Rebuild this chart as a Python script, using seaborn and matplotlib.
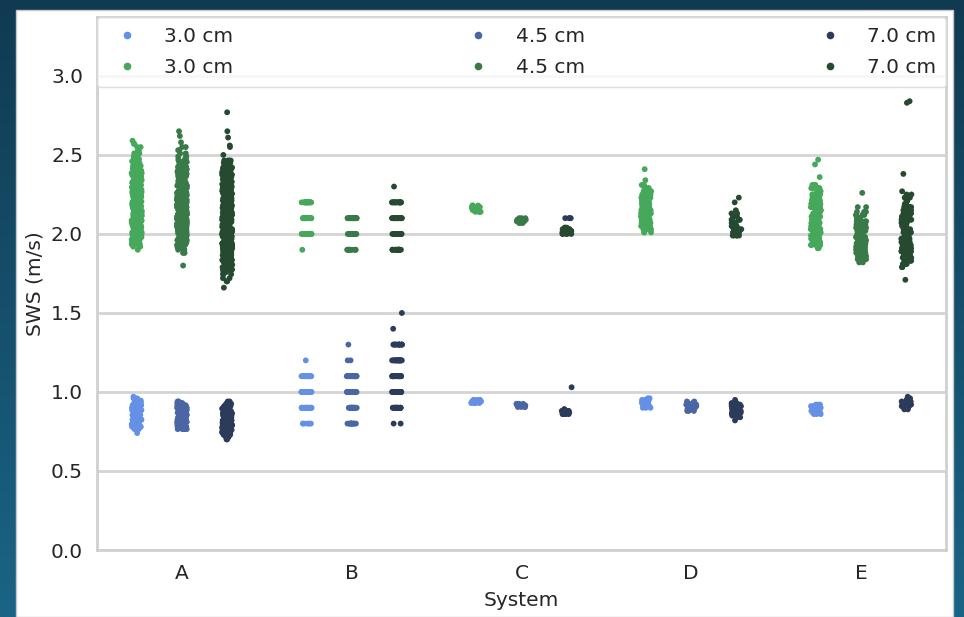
import numpy as np
import pandas as pd
import matplotlib
matplotlib.use("Agg")
import matplotlib.pyplot as plt
from matplotlib.lines import Line2D
from matplotlib.patches import Rectangle
import seaborn as sns

np.random.seed(3)

systems = ["A", "B", "C", "D", "E"]
depths = ["3.0 cm", "4.5 cm", "7.0 cm"]
blue_colors = ["#6490e6", "#4a66a4", "#2d3b5b"]
green_colors = ["#46a85a", "#3a7a48", "#264a30"]

# ---- high-SWS (green) groups: value levels and point counts ----
A_hi_30_y = [1.90, 1.92, 1.935,
             1.95, 1.965, 1.98, 1.995, 2.01, 2.025, 2.04, 2.055, 2.07, 2.085, 2.10, 2.115, 2.13, 2.145,
             2.16, 2.175, 2.19, 2.205, 2.22, 2.235, 2.25, 2.265, 2.28, 2.295, 2.31, 2.325, 2.34, 2.355,
             2.37, 2.385, 2.40, 2.415, 2.43, 2.445, 2.46,
             2.475, 2.49, 2.51, 2.53, 2.55, 2.57, 2.59]
A_hi_30_n = [1, 2, 3,
             5, 6, 7, 8, 9, 9, 10, 10, 10, 10, 10, 10, 10, 10, 10, 10, 10, 10, 10, 10, 9, 9, 9, 9, 8, 8,
             8, 7, 7, 7, 6, 6, 5, 5, 4,
             4, 3, 3, 2, 2, 2, 1]
A_hi_45_y = [1.80, 1.88, 1.90, 1.915,
             1.93, 1.945, 1.96, 1.975, 1.99, 2.005, 2.02, 2.035, 2.05, 2.065, 2.08, 2.095, 2.11, 2.125,
             2.14, 2.155, 2.17, 2.185, 2.20, 2.215, 2.23, 2.245, 2.26, 2.275, 2.29, 2.305, 2.32, 2.335,
             2.35, 2.365, 2.38, 2.395, 2.41, 2.425, 2.44, 2.455, 2.47,
             2.49, 2.51, 2.53, 2.55, 2.58, 2.62, 2.65]
A_hi_45_n = [1, 2, 3, 4,
             5, 6, 7, 8, 9, 10, 10, 10, 10, 10, 10, 10, 10, 10, 10, 10, 10, 10, 10, 9, 9, 9, 9, 9,
             8, 8, 8, 7, 7, 6, 6, 5, 5, 4, 4, 4, 3,
             3, 2, 2, 2, 1, 1, 1]
A_hi_70_y = [1.66, 1.70, 1.72,
             1.745, 1.76, 1.775, 1.79, 1.805, 1.82, 1.835, 1.85, 1.865, 1.88, 1.895, 1.91, 1.925, 1.94,
             1.955, 1.97, 1.985, 2.00, 2.015, 2.03, 2.045, 2.06, 2.075, 2.09, 2.105, 2.12, 2.135, 2.15,
             2.165, 2.18, 2.195, 2.21, 2.225, 2.24, 2.255, 2.27, 2.285, 2.30, 2.315, 2.33, 2.345, 2.36,
             2.375, 2.39, 2.405, 2.42, 2.435, 2.45, 2.465,
             2.50, 2.55, 2.56, 2.61, 2.65, 2.77]
A_hi_70_n = [1, 2, 2,
             3, 4, 5, 6, 7, 8, 9, 9, 10, 10, 10, 10, 10, 10, 10, 10, 10, 10, 10, 10, 10, 10, 10, 10,
             10, 10, 10, 9, 9, 9, 9, 9, 9, 8, 8, 8, 8, 8, 7, 7, 7, 7, 6, 6, 6, 5, 5, 4, 4,
             1, 1, 1, 1, 1, 1]

B_hi_30_y = [1.9, 2.0, 2.1, 2.2]
B_hi_30_n = [1, 20, 20, 16]
B_hi_45_y = [1.9, 2.0, 2.1]
B_hi_45_n = [10, 20, 20]
B_hi_70_y = [1.9, 2.0, 2.1, 2.2, 2.3]
B_hi_70_n = [16, 20, 20, 16, 1]

C_hi_30_y = [2.14, 2.15, 2.16, 2.17, 2.18]
C_hi_30_n = [4, 6, 8, 6, 3]
C_hi_45_y = [2.07, 2.08, 2.09, 2.10]
C_hi_45_n = [4, 6, 6, 3]
C_hi_70_y = [2.00, 2.01, 2.02, 2.03, 2.04]
C_hi_70_n = [5, 7, 7, 5, 3]

D_hi_30_y = [2.01, 2.03, 2.05, 2.07, 2.09, 2.11, 2.13, 2.15, 2.17, 2.19, 2.21, 2.23, 2.25, 2.27, 2.29, 2.31, 2.34, 2.41]
D_hi_30_n = [3, 5, 7, 8, 8, 8, 8, 8, 8, 8, 8, 8, 7, 6, 4, 2, 1, 1]
D_hi_45_y = []
D_hi_45_n = []
D_hi_70_y = [1.99, 2.01, 2.03, 2.05, 2.07, 2.09, 2.11, 2.13, 2.15, 2.20, 2.23]
D_hi_70_n = [5, 7, 7, 7, 6, 5, 4, 2, 1, 1, 1]

E_hi_30_y = [1.91, 1.93, 1.95, 1.97, 1.99, 2.01, 2.03, 2.05, 2.07, 2.09, 2.11, 2.13, 2.15, 2.17,
             2.19, 2.21, 2.23, 2.25, 2.27, 2.29, 2.31, 2.36, 2.44, 2.47]
E_hi_30_n = [2, 5, 6, 7, 8, 8, 8, 8, 8, 8, 8, 8, 8, 8, 8, 8, 7, 7, 6, 5, 3, 1, 1, 1]
E_hi_45_y = [1.82, 1.84, 1.86, 1.88, 1.90, 1.92, 1.94, 1.96, 1.98, 2.00, 2.02, 2.04, 2.06, 2.08,
             2.10, 2.12, 2.14, 2.17, 2.26]
E_hi_45_n = [2, 5, 6, 7, 8, 8, 8, 8, 8, 8, 8, 7, 7, 6, 5, 4, 3, 2, 1]
E_hi_70_y = [1.71, 1.79, 1.81, 1.83, 1.85, 1.87, 1.89, 1.91, 1.93, 1.95, 1.97, 1.99, 2.01, 2.03, 2.05,
             2.07, 2.09, 2.11, 2.13, 2.15, 2.17, 2.19, 2.21, 2.23, 2.25, 2.27, 2.38, 2.83, 2.84]
E_hi_70_n = [1, 2, 4, 5, 6, 7, 7, 7, 7, 7, 7, 7, 7, 7, 7, 6, 6, 6, 5, 5, 4, 3, 3, 2, 2, 1, 1, 1, 1]

# ---- low-SWS (blue) groups ----
A_lo_30_y = [0.74, 0.765, 0.78, 0.795, 0.81, 0.825, 0.84, 0.855, 0.87, 0.885, 0.90, 0.915, 0.93, 0.945, 0.96, 0.97]
A_lo_30_n = [1, 3, 6, 8, 9, 9, 9, 9, 9, 8, 8, 7, 6, 5, 3, 1]
A_lo_45_y = [0.765, 0.78, 0.795, 0.81, 0.825, 0.84, 0.855, 0.87, 0.885, 0.90, 0.915, 0.93, 0.94]
A_lo_45_n = [6, 9, 10, 10, 10, 10, 10, 10, 9, 8, 6, 4, 2]
A_lo_70_y = [0.70, 0.715, 0.73, 0.745, 0.76, 0.775, 0.79, 0.805, 0.82, 0.835, 0.85, 0.865, 0.88, 0.895, 0.91, 0.925, 0.94]
A_lo_70_n = [2, 4, 7, 9, 10, 10, 10, 10, 10, 9, 9, 8, 7, 6, 5, 3, 2]

B_lo_30_y = [0.8, 0.9, 1.0, 1.1, 1.2]
B_lo_30_n = [5, 20, 20, 16, 1]
B_lo_45_y = [0.8, 0.9, 1.0, 1.1, 1.2, 1.3]
B_lo_45_n = [10, 20, 20, 20, 2, 1]
B_lo_70_y = [0.8, 0.9, 1.0, 1.1, 1.2, 1.3, 1.4, 1.5]
B_lo_70_n = [2, 20, 20, 20, 16, 12, 1, 1]

C_lo_30_y = [0.93, 0.94, 0.95]
C_lo_30_n = [5, 8, 4]
C_lo_45_y = [0.905, 0.915, 0.925]
C_lo_45_n = [4, 6, 4]
C_lo_70_y = [0.86, 0.87, 0.88, 0.89, 1.03, 2.10]
C_lo_70_n = [5, 6, 6, 3, 1, 4]

D_lo_30_y = [0.90, 0.91, 0.92, 0.93, 0.94, 0.95, 0.96]
D_lo_30_n = [3, 5, 6, 6, 5, 4, 2]
D_lo_45_y = [0.88, 0.89, 0.90, 0.91, 0.92, 0.93, 0.94]
D_lo_45_n = [3, 5, 6, 6, 6, 4, 2]
D_lo_70_y = [0.82, 0.84, 0.85, 0.86, 0.87, 0.88, 0.89, 0.90, 0.91, 0.92, 0.93, 0.95]
D_lo_70_n = [1, 2, 3, 4, 5, 5, 5, 5, 4, 3, 2, 1]

E_lo_30_y = [0.86, 0.87, 0.88, 0.89, 0.90, 0.91, 0.92]
E_lo_30_n = [3, 5, 6, 6, 6, 5, 3]
E_lo_45_y = []
E_lo_45_n = []
E_lo_70_y = [0.89, 0.90, 0.91, 0.92, 0.93, 0.94, 0.95, 0.96, 0.97]
E_lo_70_n = [2, 4, 5, 5, 5, 4, 3, 2, 1]

hi_groups = {
    ("A", "3.0 cm"): (A_hi_30_y, A_hi_30_n), ("A", "4.5 cm"): (A_hi_45_y, A_hi_45_n), ("A", "7.0 cm"): (A_hi_70_y, A_hi_70_n),
    ("B", "3.0 cm"): (B_hi_30_y, B_hi_30_n), ("B", "4.5 cm"): (B_hi_45_y, B_hi_45_n), ("B", "7.0 cm"): (B_hi_70_y, B_hi_70_n),
    ("C", "3.0 cm"): (C_hi_30_y, C_hi_30_n), ("C", "4.5 cm"): (C_hi_45_y, C_hi_45_n), ("C", "7.0 cm"): (C_hi_70_y, C_hi_70_n),
    ("D", "3.0 cm"): (D_hi_30_y, D_hi_30_n), ("D", "4.5 cm"): (D_hi_45_y, D_hi_45_n), ("D", "7.0 cm"): (D_hi_70_y, D_hi_70_n),
    ("E", "3.0 cm"): (E_hi_30_y, E_hi_30_n), ("E", "4.5 cm"): (E_hi_45_y, E_hi_45_n), ("E", "7.0 cm"): (E_hi_70_y, E_hi_70_n),
}
lo_groups = {
    ("A", "3.0 cm"): (A_lo_30_y, A_lo_30_n), ("A", "4.5 cm"): (A_lo_45_y, A_lo_45_n), ("A", "7.0 cm"): (A_lo_70_y, A_lo_70_n),
    ("B", "3.0 cm"): (B_lo_30_y, B_lo_30_n), ("B", "4.5 cm"): (B_lo_45_y, B_lo_45_n), ("B", "7.0 cm"): (B_lo_70_y, B_lo_70_n),
    ("C", "3.0 cm"): (C_lo_30_y, C_lo_30_n), ("C", "4.5 cm"): (C_lo_45_y, C_lo_45_n), ("C", "7.0 cm"): (C_lo_70_y, C_lo_70_n),
    ("D", "3.0 cm"): (D_lo_30_y, D_lo_30_n), ("D", "4.5 cm"): (D_lo_45_y, D_lo_45_n), ("D", "7.0 cm"): (D_lo_70_y, D_lo_70_n),
    ("E", "3.0 cm"): (E_lo_30_y, E_lo_30_n), ("E", "4.5 cm"): (E_lo_45_y, E_lo_45_n), ("E", "7.0 cm"): (E_lo_70_y, E_lo_70_n),
}


def build(groups):
    rows = []
    for (sysname, depth), (ys, ns) in groups.items():
        for v in np.repeat(ys, ns):
            rows.append({"System": sysname, "Depth": depth, "SWS": float(v)})
    return pd.DataFrame(rows, columns=["System", "Depth", "SWS"])


df_hi = build(hi_groups)
df_lo = build(lo_groups)

sns.set_theme(style="whitegrid")
plt.rcParams.update({
    "font.family": ["DejaVu Sans"],
    "axes.edgecolor": "#d0d0d0",
    "axes.linewidth": 2.0,
    "grid.color": "#d4d4d4",
    "grid.linewidth": 2.0,
    "text.color": "#262626",
    "axes.labelcolor": "#262626",
    "xtick.color": "#262626",
    "ytick.color": "#262626",
})

fig = plt.figure(figsize=(9.64, 6.17), dpi=100)

# screenshot-style dark gradient frame
bg = fig.add_axes([0, 0, 1, 1], zorder=-10)
grad = np.linspace(0, 1, 256).reshape(-1, 1)
cmap = matplotlib.colors.LinearSegmentedColormap.from_list("bgc", ["#103a52", "#1a6486"])
bg.imshow(grad, aspect="auto", cmap=cmap, extent=[0, 1, 0, 1], origin="upper")
bg.set_axis_off()
fig.patches.append(Rectangle((16 / 964, 0), (953 - 16) / 964, (617 - 10) / 617,
                             transform=fig.transFigure, facecolor="white",
                             edgecolor="#c8c8c8", linewidth=1.0, zorder=-5))

ax = fig.add_axes([97 / 964, (617 - 550) / 617, (946 - 97) / 964, (550 - 17) / 617])

sns.stripplot(data=df_lo, x="System", y="SWS", hue="Depth", order=systems, hue_order=depths,
              palette=blue_colors, dodge=True, jitter=0.09, size=4.2, linewidth=0, legend=False, ax=ax)
sns.stripplot(data=df_hi, x="System", y="SWS", hue="Depth", order=systems, hue_order=depths,
              palette=green_colors, dodge=True, jitter=0.09, size=4.2, linewidth=0, legend=False, ax=ax)

ax.set_ylim(0, 3.373)
ax.set_xlim(-0.5, 4.5)
ax.set_yticks([0.0, 0.5, 1.0, 1.5, 2.0, 2.5, 3.0])
ax.set_yticklabels(["0.0", "0.5", "1.0", "1.5", "2.0", "2.5", "3.0"])
ax.tick_params(axis="both", labelsize=14.5, pad=10, length=0)
ax.set_xlabel("System", fontsize=14.5, labelpad=6)
ax.set_ylabel("SWS (m/s)", fontsize=14.5, labelpad=5)
ax.xaxis.grid(False)
ax.yaxis.grid(True)
for s in ax.spines.values():
    s.set_visible(True)
    s.set_color("#d0d0d0")

handles = []
labels = []
for i, d in enumerate(depths):
    handles.append(Line2D([], [], marker="o", linestyle="", markersize=5.5,
                          markerfacecolor=blue_colors[i], markeredgewidth=0))
    labels.append(d)
    handles.append(Line2D([], [], marker="o", linestyle="", markersize=5.5,
                          markerfacecolor=green_colors[i], markeredgewidth=0))
    labels.append(d)
ax.legend(handles, labels, ncol=3, mode="expand", loc="upper left",
          bbox_to_anchor=(0, 1, 1, 0), borderaxespad=0.0, fontsize=14.5,
          frameon=True, framealpha=0.8, edgecolor="#d8d8d8", handletextpad=0.85,
          labelspacing=0.6, borderpad=0.5)

fig.savefig("out.png", dpi=100)
